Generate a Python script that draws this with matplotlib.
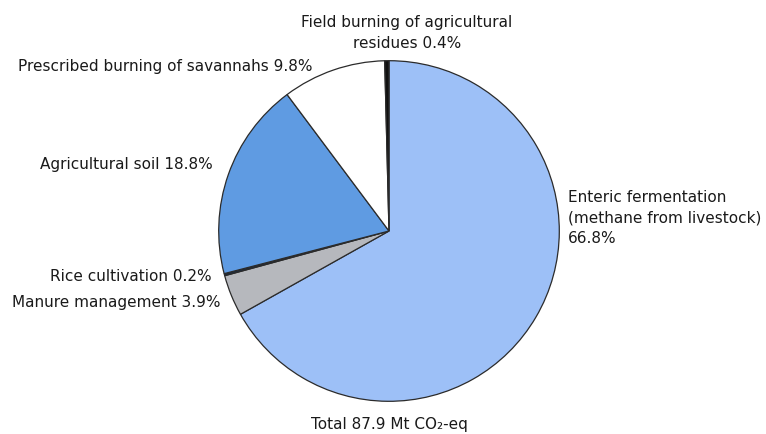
import matplotlib
matplotlib.use("Agg")
import matplotlib.pyplot as plt

# agricultural emission sources, clockwise from 12 o'clock
sources = ["Enteric fermentation\n(methane from livestock)", "Manure management",
           "Rice cultivation", "Agricultural soil",
           "Prescribed burning of savannahs", "Field burning of agricultural\nresidues"]
shares = [66.8, 3.9, 0.2, 18.8, 9.8, 0.4]
colours = ["#9dc0f7", "#b6b8bd", "#1a2a40", "#5f9be2", "#ffffff", "#111111"]
total = 87.9

plt.rcParams['font.family'] = ['DejaVu Sans']

W, H = 766, 435
fig = plt.figure(figsize=(W / 100, H / 100), dpi=100)

# pie centre and radius in pixels
cx, cy, r = 389, 232, 172
ax = fig.add_axes([(cx - r) / W, (H - cy - r) / H, 2 * r / W, 2 * r / H])
ax.pie(shares, colors=colours, startangle=90, counterclock=False, radius=1,
       wedgeprops=dict(edgecolor="#2b2b2b", linewidth=0.9))
ax.set_xlim(-1.01, 1.01)
ax.set_ylim(-1.01, 1.01)
ax.set_aspect('equal')
ax.axis('off')

def label(i, x, y, ha, sep=" "):
    fig.text(x / W, 1 - y / H, sources[i] + sep + "%.1f%%" % shares[i],
             ha=ha, va='center', fontsize=11, color="#1a1a1a", linespacing=1.42)

label(0, 568, 218, 'left', sep="\n")
label(1, 221, 303, 'right')
label(2, 212, 277, 'right')
label(3, 213, 165, 'right')
label(4, 313, 66, 'right')
label(5, 407, 33, 'center')

fig.text(389 / W, 1 - 425 / H, "Total %.1f Mt CO\u2082-eq" % total,
         ha='center', va='center', fontsize=11, color="#1a1a1a")

plt.savefig("out.png", dpi=100)
